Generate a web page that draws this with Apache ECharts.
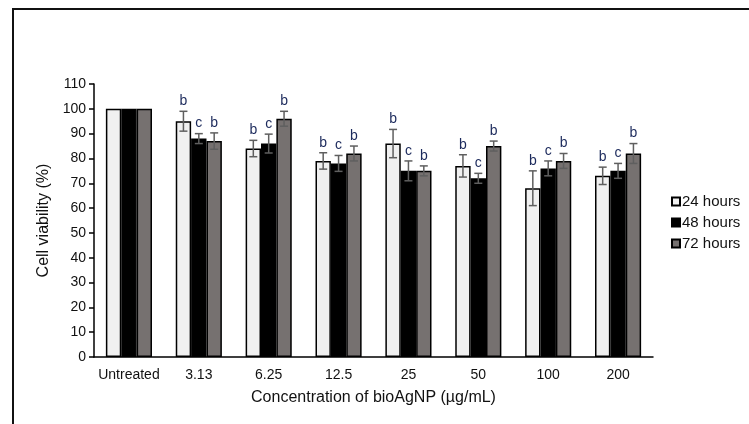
<!DOCTYPE html>
<html>
<head>
<meta charset="utf-8">
<script src="https://cdn.jsdelivr.net/npm/echarts@6/dist/echarts.min.js"></script>
<style>
  html, body { margin: 0; padding: 0; background: #fff; }
  #chart { width: 749px; height: 424px; }
</style>
</head>
<body>
<div id="chart"></div>
<script>
// concentrations of bioAgNP
const categories = ['Untreated', '3.13', '6.25', '12.5', '25', '50', '100', '200']
const seriesNames = ['24 hours', '48 hours', '72 hours']

// mean viability (%)
const val24 = [100, 95, 84, 79, 86, 77, 68, 73]
const val48 = [100, 88, 86, 78, 75, 72, 76, 75]
const val72 = [100, 87, 96, 82, 75, 85, 79, 82]

// error (+/-)
const err24 = [0, 4, 3.3, 3.3, 5.7, 4.5, 7, 3.5]
const err48 = [0, 2, 3.8, 3.2, 4, 2, 3, 3]
const err72 = [0, 3.3, 3, 3, 2, 2, 3, 4]

// significance letters
const sig24 = ['', 'b', 'b', 'b', 'b', 'b', 'b', 'b']
const sig48 = ['', 'c', 'c', 'c', 'c', 'c', 'c', 'c']
const sig72 = ['', 'b', 'b', 'b', 'b', 'b', 'b', 'b']

const values = [val24, val48, val72]
const errors = [err24, err48, err72]
const sigs = [sig24, sig48, sig72]
const fills = ['#f0f0f0', '#000000', '#767170']

const GAP = 0.34
const FONT = '"Liberation Sans", Arial, sans-serif'

const chart = echarts.init(document.getElementById('chart'))

function errorSeries (k) {
  const data = values[k].map((v, i) => [i, v, errors[k][i], sigs[k][i]])
  return {
    type: 'custom',
    name: seriesNames[k] + ' err',
    z: 5,
    silent: true,
    data: data,
    renderItem: (params, api) => {
      const idx = api.value(0)
      const v = api.value(1)
      const e = api.value(2)
      const letter = data[params.dataIndex][3]
      const band = api.size([1, 0])[0]
      const barW = band * (1 - GAP) / 3
      const center = api.coord([idx, v])
      const x = center[0] + (k - 1) * barW
      const children = []
      let topY = center[1]
      if (e > 0) {
        const hi = api.coord([idx, v + e])[1]
        const lo = api.coord([idx, v - e])[1]
        const cap = 4
        const st = { stroke: '#5f5f5f', lineWidth: 1.5 }
        children.push({ type: 'line', shape: { x1: x, y1: hi, x2: x, y2: lo }, style: st })
        children.push({ type: 'line', shape: { x1: x - cap, y1: hi, x2: x + cap, y2: hi }, style: st })
        children.push({ type: 'line', shape: { x1: x - cap, y1: lo, x2: x + cap, y2: lo }, style: st })
        topY = hi
      }
      if (letter) {
        children.push({
          type: 'text',
          style: {
            text: letter,
            x: x,
            y: topY - 3,
            align: 'center',
            verticalAlign: 'bottom',
            fill: '#1c2a5c',
            font: '14px ' + FONT
          }
        })
      }
      return { type: 'group', children: children }
    }
  }
}

const barSeries = seriesNames.map((name, k) => ({
  type: 'bar',
  name: name,
  data: values[k],
  barGap: '0%',
  barCategoryGap: (GAP * 100) + '%',
  itemStyle: {
    color: fills[k],
    borderColor: '#000',
    borderWidth: 1.5
  }
}))

chart.setOption({
  animation: false,
  textStyle: { fontFamily: FONT },
  graphic: [{
    type: 'rect',
    shape: { x: 13, y: 9, width: 800, height: 500 },
    style: { fill: 'none', stroke: '#111', lineWidth: 2 }
  }],
  grid: { left: 94, right: 96, top: 84, bottom: 67 },
  legend: {
    data: seriesNames,
    orient: 'vertical',
    left: 666,
    top: 189,
    itemWidth: 8,
    itemHeight: 8,
    itemGap: 6,
    icon: 'rect',
    textStyle: { fontSize: 15, color: '#111', padding: [0, 0, 0, -3] }
  },
  xAxis: {
    type: 'category',
    data: categories,
    name: 'Concentration of bioAgNP (\u00b5g/mL)',
    nameLocation: 'middle',
    nameGap: 33,
    nameTextStyle: { fontSize: 16, color: '#111' },
    axisLine: { lineStyle: { color: '#000', width: 1.5 } },
    axisTick: { alignWithLabel: true, interval: 0, length: 4, lineStyle: { color: '#000', width: 1.5 } },
    axisLabel: { interval: 0, fontSize: 14, color: '#111', margin: 11 }
  },
  yAxis: {
    type: 'value',
    min: 0,
    max: 110,
    interval: 10,
    name: 'Cell viability (%)',
    nameLocation: 'middle',
    nameGap: 41,
    nameTextStyle: { fontSize: 16, color: '#111' },
    splitLine: { show: false },
    axisLine: { show: true, lineStyle: { color: '#000', width: 1.5 } },
    axisTick: { show: true, length: 5, lineStyle: { color: '#000', width: 1.5 } },
    axisLabel: { fontSize: 14, color: '#111', margin: 8 }
  },
  series: barSeries.concat([0, 1, 2].map(errorSeries))
})
</script>
</body>
</html>
